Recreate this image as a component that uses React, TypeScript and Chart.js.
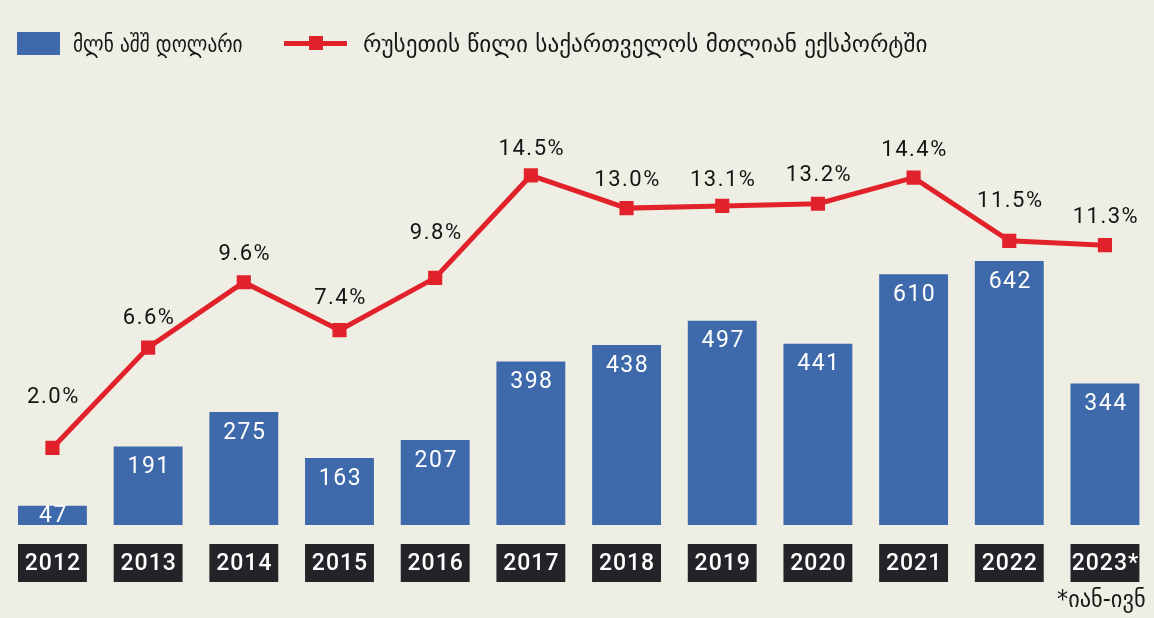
import React, { useEffect, useRef } from "react";
import { Chart, registerables } from "chart.js";

Chart.register(...registerables);

// ---- data ----
const years = ["2012", "2013", "2014", "2015", "2016", "2017", "2018", "2019", "2020", "2021", "2022", "2023*"];
const exportsMln = [47, 191, 275, 163, 207, 398, 438, 497, 441, 610, 642, 344];
const russiaSharePct = [2.0, 6.6, 9.6, 7.4, 9.8, 14.5, 13.0, 13.1, 13.2, 14.4, 11.5, 11.3];
const barLegend = "მლნ აშშ დოლარი";
const lineLegend = "რუსეთის წილი საქართველოს მთლიან ექსპორტში";
const footnote = "*იან-ივნ";

// ---- label styling (pixel lift of each % label above its point) ----
const pctLabelLift = [50, 29, 28, 32, 44, 26, 28, 25, 28, 27, 39, 28];

const BG = "#efeee5";
const BLUE = "#3e6aab";
const RED = "#e2222b";
const DARK = "#222428";
const NUM_FONT = "Roboto, 'DejaVu Sans', sans-serif";
const GEO_FONT = "'DejaVu Sans Condensed', 'DejaVu Sans', sans-serif";

const labelsPlugin = {
  id: "customLabels",
  afterDatasetsDraw(chart: any) {
    const ctx = chart.ctx as CanvasRenderingContext2D;
    const lineMeta = chart.getDatasetMeta(0);
    const barMeta = chart.getDatasetMeta(1);
    const area = chart.chartArea;
    ctx.save();
    ctx.textAlign = "center";
    ctx.textBaseline = "middle";

    // bar value labels
    ctx.font = `400 23px ${NUM_FONT}`;
    (ctx as any).letterSpacing = "1.5px";
    ctx.fillStyle = "#ffffff";
    barMeta.data.forEach((bar: any, i: number) => {
      const { x, y, base } = bar.getProps(["x", "y", "base"], true);
      const h = base - y;
      const ly = h < 40 ? (y + base) / 2 + 1 : y + 21;
      ctx.fillText(String(exportsMln[i]), x + 1, ly);
    });

    // percentage labels
    ctx.font = `400 22px ${NUM_FONT}`;
    (ctx as any).letterSpacing = "1.5px";
    ctx.fillStyle = "#141414";
    lineMeta.data.forEach((pt: any, i: number) => {
      const { x, y } = pt.getProps(["x", "y"], true);
      ctx.fillText(russiaSharePct[i].toFixed(1) + "%", x + 1, y - pctLabelLift[i]);
    });

    // category boxes
    ctx.font = `500 23px ${NUM_FONT}`;
    (ctx as any).letterSpacing = "1px";
    barMeta.data.forEach((bar: any, i: number) => {
      const { x, width } = bar.getProps(["x", "width"], true);
      const top = area.bottom + 19;
      ctx.fillStyle = DARK;
      ctx.fillRect(x - width / 2, top, width, 38);
      ctx.fillStyle = "#ffffff";
      ctx.fillText(years[i], x + 0.5, top + 20);
    });
    ctx.restore();
  },
};

const textStyle = (left: number | undefined, top: number, extra: any = {}) => ({
  position: "absolute" as const,
  left,
  top,
  height: 28,
  lineHeight: "28px",
  fontFamily: GEO_FONT,
  fontSize: 24,
  color: "#161616",
  whiteSpace: "nowrap" as const,
  transformOrigin: "left center",
  ...extra,
});

export default function App() {
  const canvasRef = useRef<HTMLCanvasElement | null>(null);
  const leg1Ref = useRef<HTMLSpanElement | null>(null);
  const leg2Ref = useRef<HTMLSpanElement | null>(null);
  const noteRef = useRef<HTMLSpanElement | null>(null);

  useEffect(() => {
    const fit = (el: HTMLElement | null, target: number, origin: string) => {
      if (!el) return;
      const w = el.offsetWidth;
      if (w > 0) {
        el.style.transformOrigin = origin;
        el.style.transform = `scaleX(${target / w})`;
      }
    };
    fit(leg1Ref.current, 170, "left center");
    fit(leg2Ref.current, 565, "left center");
    fit(noteRef.current, 89, "right center");
  }, []);

  useEffect(() => {
    if (!canvasRef.current) return;
    const chart = new Chart(canvasRef.current, {
      type: "bar",
      data: {
        labels: years,
        datasets: [
          {
            type: "line",
            label: lineLegend,
            data: russiaSharePct,
            yAxisID: "y1",
            borderColor: RED,
            backgroundColor: RED,
            borderWidth: 5,
            pointStyle: "rect",
            pointRadius: 10,
            pointBorderWidth: 0,
            pointBackgroundColor: RED,
            tension: 0,
            order: 0,
          } as any,
          {
            type: "bar",
            label: barLegend,
            data: exportsMln,
            yAxisID: "y",
            backgroundColor: BLUE,
            borderWidth: 0,
            barPercentage: 0.72,
            categoryPercentage: 1,
            order: 1,
          },
        ],
      },
      options: {
        responsive: false,
        animation: false,
        layout: { autoPadding: false, padding: { left: 4.6, right: 1.2, top: 100, bottom: 93 } },
        plugins: { legend: { display: false }, tooltip: { enabled: false } },
        scales: {
          x: { display: false, offset: true },
          y: { display: false, min: 0, max: 1034 },
          y1: { display: false, position: "right", min: -1.537, max: 17.96 },
        },
      } as any,
      plugins: [labelsPlugin],
    });
    return () => chart.destroy();
  }, []);

  return (
    <div
      style={{
        position: "fixed",
        left: 0,
        top: 0,
        width: 1154,
        height: 618,
        background: BG,
        overflow: "hidden",
      }}
    >
      <canvas ref={canvasRef} width={1154} height={618} style={{ position: "absolute", left: 0, top: 0 }} />
      {/* legend */}
      <div style={{ position: "absolute", left: 17, top: 32, width: 43, height: 23, background: BLUE }} />
      <span ref={leg1Ref} style={textStyle(73, 30)}>
        {barLegend}
      </span>
      <div style={{ position: "absolute", left: 284, top: 41, width: 63, height: 5, background: RED }} />
      <div style={{ position: "absolute", left: 309, top: 36, width: 14, height: 14, background: RED }} />
      <span ref={leg2Ref} style={textStyle(363, 30)}>
        {lineLegend}
      </span>
      {/* footnote */}
      <span ref={noteRef} style={textStyle(undefined, 585, { right: 8, transformOrigin: "right center" })}>
        {footnote}
      </span>
    </div>
  );
}
